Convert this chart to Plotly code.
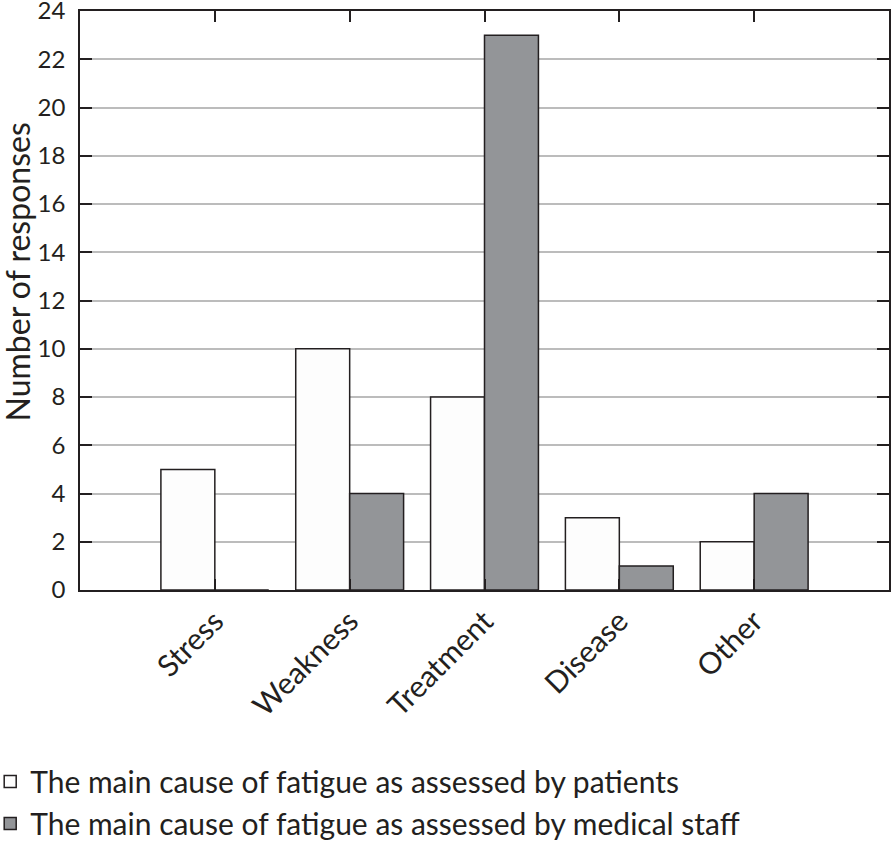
import plotly.graph_objects as go

categories = ["Stress", "Weakness", "Treatment", "Disease", "Other"]
patients = [5, 10, 8, 3, 2]
staff = [0, 4, 23, 1, 4]
y_ticks = list(range(0, 25, 2))

FONT = "Lato"
INK = "#231f20"

fig = go.Figure()
fig.add_trace(go.Bar(
    x=categories, y=patients,
    name="The main cause of fatigue as assessed by patients",
    marker=dict(color="#fdfdfd", line=dict(color=INK, width=1.5)),
    legendgroup="a",
))
fig.add_trace(go.Bar(
    x=categories, y=staff,
    name="The main cause of fatigue as assessed by medical staff",
    marker=dict(color="#939598", line=dict(color=INK, width=1.5)),
    legendgroup="b",
))

fig.update_layout(
    width=892, height=844,
    margin=dict(l=80, r=3, t=11, b=254, autoexpand=False),
    paper_bgcolor="white", plot_bgcolor="white",
    barmode="group", bargap=0.2, bargroupgap=0,
    font=dict(family=FONT, size=30, color=INK),
    showlegend=True,
    legend=dict(
        orientation="v", x=-0.111, y=-0.286, xanchor="left", yanchor="top",
        font=dict(family=FONT, size=30, color=INK),
        tracegroupgap=0, traceorder="grouped",
        bgcolor="rgba(0,0,0,0)", itemwidth=30,
    ),
    annotations=[dict(
        text="Number of responses", textangle=-90,
        xref="paper", yref="paper", x=-0.0775, y=0.549,
        xanchor="center", yanchor="middle", showarrow=False,
        font=dict(family=FONT, size=32, color=INK),
    )],
)

fig.update_xaxes(
    type="category", categoryorder="array", categoryarray=categories,
    range=[-1, 5],
    showline=True, linecolor=INK, linewidth=1.5, mirror="ticks",
    ticks="inside", ticklen=11, tickwidth=1.5, tickcolor=INK,
    tickangle=-45, tickfont=dict(family=FONT, size=30, color=INK),
    ticklabelstandoff=0,
    showgrid=False, zeroline=False,
)
fig.update_yaxes(
    range=[0, 24], tickvals=y_ticks,
    showline=True, linecolor=INK, linewidth=1.5, mirror="ticks",
    ticks="inside", ticklen=12, tickwidth=1.5, tickcolor=INK,
    tickfont=dict(family=FONT, size=24, color=INK),
    ticklabelstandoff=8, ticklabeloverflow="allow",
    showgrid=True, gridcolor="#bcbcbc", gridwidth=1.5, zeroline=False,
)

fig.write_html(
    "out.html",
    config={"displayModeBar": False},
    post_script="document.body.style.margin='0';",
)
